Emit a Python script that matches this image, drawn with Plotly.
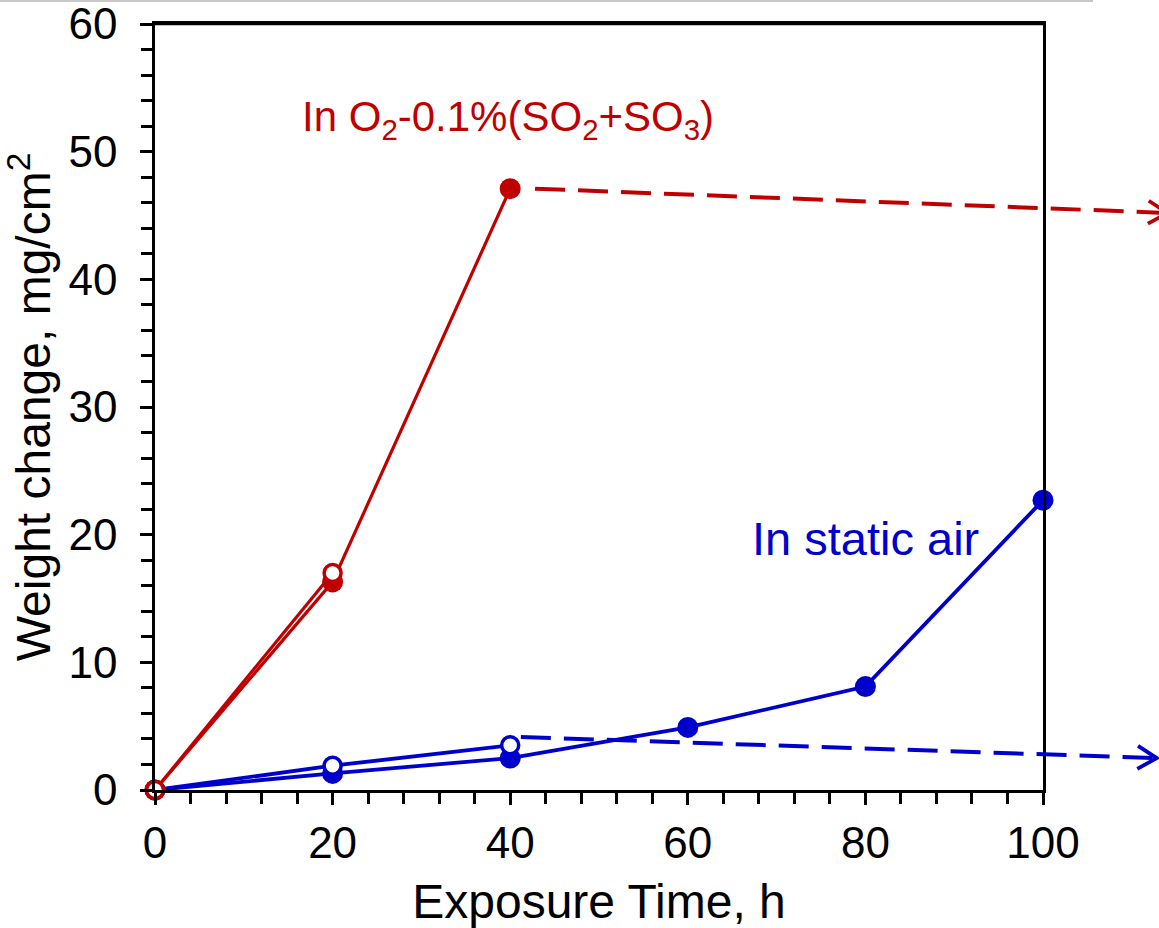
import math
import plotly.graph_objects as go

# Exposure time (h) and weight change (mg/cm^2)
time_so2 = [0, 20, 40]
gain_so2_filled = [0, 16.3, 47.1]
time_so2_open = [0, 20]
gain_so2_open = [0, 17.0]

time_air = [0, 20, 40, 60, 80, 100]
gain_air_filled = [0, 1.3, 2.5, 4.9, 8.1, 22.7]
time_air_open = [0, 20, 40]
gain_air_open = [0, 1.9, 3.5]

# Extrapolated trends continuing past the last measurement
trend_so2_x = [42.8, 114.0]
trend_so2_y = [47.1, 45.2]
trend_air_x = [41.2, 112.8]
trend_air_y = [4.15, 2.5]

RED = "#C00000"
BLUE = "#0000CC"
FONT = "Liberation Sans, Arial, sans-serif"

W, H = 1159, 928
M_L, M_T, M_B = 155, 24, 138
PLOT_W = 888            # width of the 0-100 h axis in px
FULL_W = W - M_L        # width including the right-hand margin
PLOT_H = H - M_T - M_B
X_MAX, Y_MAX = 100, 60
X2_MAX = X_MAX * FULL_W / PLOT_W
PX_PER_X = PLOT_W / X_MAX
PX_PER_Y = PLOT_H / Y_MAX

fig = go.Figure()


def series(x, y, color, filled, width):
    fig.add_trace(go.Scatter(
        x=x, y=y, xaxis="x", yaxis="y", mode="lines+markers",
        line=dict(color=color, width=width),
        marker=dict(size=21 if filled else 17,
                    color=color if filled else "white",
                    line=dict(color=color, width=0 if filled else 3.5),
                    symbol="circle"),
        cliponaxis=False, showlegend=False, hoverinfo="skip"))


series(time_air, gain_air_filled, BLUE, True, 3.8)
series(time_air_open, gain_air_open, BLUE, False, 3.8)
series(time_so2, gain_so2_filled, RED, True, 3.2)
series(time_so2_open, gain_so2_open, RED, False, 3.2)


def chevron(tx, ty, back_px=19, half_px=11.5):
    """Open '>' head at the end of a trend line, built in pixel space."""
    dxp = (tx[1] - tx[0]) * PX_PER_X
    dyp = (ty[1] - ty[0]) * PX_PER_Y
    n = math.hypot(dxp, dyp)
    ux, uy = dxp / n, dyp / n
    px_, py_ = -uy, ux
    xs, ys = [], []
    for s in (1, 0, -1):
        if s == 0:
            xs.append(tx[1]); ys.append(ty[1]); continue
        ox = -back_px * ux + s * half_px * px_
        oy = -back_px * uy + s * half_px * py_
        xs.append(tx[1] + ox / PX_PER_X)
        ys.append(ty[1] + oy / PX_PER_Y)
    return xs, ys


# Dashed trend lines live on a wider hidden x-axis so they can run past the frame
for tx, ty, col in [(trend_so2_x, trend_so2_y, RED), (trend_air_x, trend_air_y, BLUE)]:
    fig.add_trace(go.Scatter(
        x=tx, y=ty, xaxis="x2", yaxis="y", mode="lines",
        line=dict(color=col, width=4, dash="30px,13px"),
        showlegend=False, hoverinfo="skip", cliponaxis=False))
    hx, hy = chevron(tx, ty)
    fig.add_trace(go.Scatter(
        x=hx, y=hy, xaxis="x2", yaxis="y", mode="lines",
        line=dict(color=col, width=3.8),
        showlegend=False, hoverinfo="skip", cliponaxis=False))

fig.add_annotation(
    x=16.3, y=52.5, xref="x", yref="y", xanchor="left", yanchor="middle",
    text="In O<sub>2</sub>-0.1%(SO<sub>2</sub>+SO<sub>3</sub>)",
    showarrow=False, font=dict(family=FONT, size=42, color=RED))
fig.add_annotation(
    x=67.0, y=19.7, xref="x", yref="y", xanchor="left", yanchor="middle",
    text="In static air", showarrow=False,
    font=dict(family=FONT, size=47, color=BLUE))

# thin grey rule along the top edge
fig.add_shape(type="line", xref="paper", yref="paper",
              x0=-M_L / FULL_W, x1=(1093 - M_L) / FULL_W,
              y0=1 + 23 / PLOT_H, y1=1 + 23 / PLOT_H,
              line=dict(color="#C8C8C8", width=2))
# top edge of the frame
fig.add_shape(type="line", xref="paper", yref="paper",
              x0=-1.25 / FULL_W, x1=(PLOT_W + 1.25) / FULL_W, y0=1, y1=1,
              line=dict(color="black", width=2.5))

axis_common = dict(
    showline=True, linecolor="black", linewidth=2.5, mirror=True,
    ticks="outside", ticklen=12, tickwidth=2.5, tickcolor="black",
    showgrid=False, zeroline=False, ticklabeloverflow="allow",
    tickfont=dict(family=FONT, size=44, color="black"),
)

fig.update_layout(
    width=W, height=H,
    margin=dict(l=M_L, r=0, t=M_T, b=M_B, autoexpand=False),
    paper_bgcolor="white", plot_bgcolor="rgba(0,0,0,0)",
    xaxis=dict(
        **axis_common, range=[0, X_MAX], domain=[0, PLOT_W / FULL_W],
        tickvals=[0, 20, 40, 60, 80, 100],
        minor=dict(ticks="outside", dtick=4, tick0=0, ticklen=11, tickwidth=2.5,
                   tickcolor="black", showgrid=False),
        title=dict(text="Exposure Time, h", standoff=20,
                   font=dict(family=FONT, size=48, color="black")),
    ),
    yaxis=dict(
        **axis_common, range=[0, Y_MAX], tickvals=[0, 10, 20, 30, 40, 50, 60],
        ticklabelstandoff=14,
        minor=dict(ticks="outside", dtick=2, tick0=0, ticklen=11, tickwidth=2.5,
                   tickcolor="black", showgrid=False),
        title=dict(text="Weight change, mg/cm<sup>2</sup>", standoff=14,
                   font=dict(family=FONT, size=48, color="black")),
    ),
    xaxis2=dict(range=[0, X2_MAX], domain=[0, 1], anchor="y", visible=False,
                fixedrange=True),
)

fig.write_html("out.html")
